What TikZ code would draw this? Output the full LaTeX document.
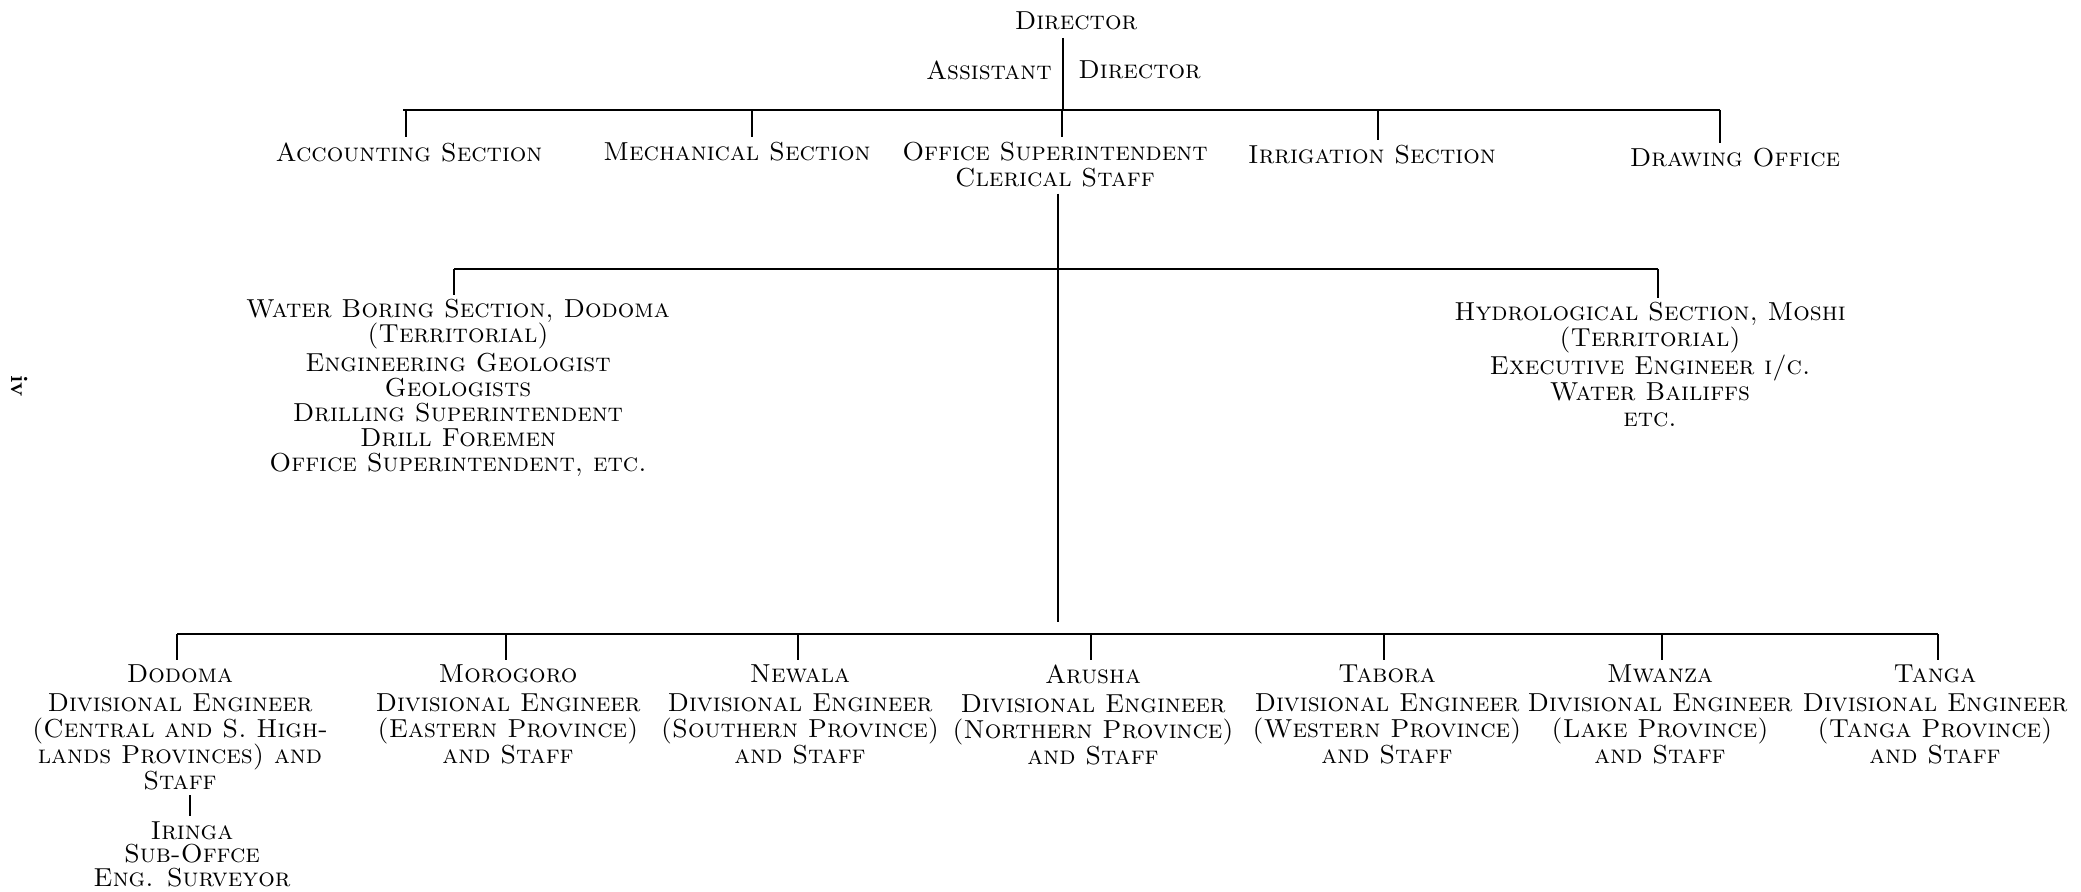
\documentclass[tikz,border=0pt]{standalone}
\begin{document}
\begin{tikzpicture}[x=0.5pt,y=-0.5pt,
  lbl/.style={font=\fontsize{13}{13}\selectfont\scshape, align=center, inner sep=0pt, anchor=north},
  bar/.style={line width=1.1pt},
  stem/.style={line width=0.7pt}]
\useasboundingbox (0,0) rectangle (2081,892);

% ---- top level
\node[lbl] (dir) at (1076,11) {Director};
\node[lbl,anchor=north east] (asst) at (1052,60) {Assistant};
\node[lbl,anchor=north west] (adir) at (1078,60) {Director};

\node[lbl] (acc)  at (409,142)  {Accounting Section};
\node[lbl] (mech) at (737,142)  {Mechanical Section};
\node[lbl] (off)  at (1055,142) {Office Superintendent\\Clerical Staff};
\node[lbl] (irr)  at (1372,145) {Irrigation Section};
\node[lbl] (drw)  at (1735,148) {Drawing Office};

% ---- second level
\node[lbl, font=\fontsize{13}{12.6}\selectfont\scshape] (wb) at (458,299)
  {Water Boring Section, Dodoma\\(Territorial)\\[1.5pt]Engineering Geologist\\Geologists\\Drilling Superintendent\\Drill Foremen\\Office Superintendent, etc.};
\node[lbl] (hyd) at (1650,302)
  {Hydrological Section, Moshi\\(Territorial)\\[1pt]Executive Engineer i/c.\\Water Bailiffs\\etc.};

% ---- divisions
\node[lbl] (dod) at (180,664)  {Dodoma\\[1.5pt]Divisional Engineer\\(Central and S. High-\\lands Provinces) and\\Staff};
\node[lbl] (mor) at (508,664)  {Morogoro\\[1.5pt]Divisional Engineer\\(Eastern Province)\\and Staff};
\node[lbl] (new) at (800,664)  {Newala\\[1.5pt]Divisional Engineer\\(Southern Province)\\and Staff};
\node[lbl] (aru) at (1093,664) {Arusha\\[1.5pt]Divisional Engineer\\(Northern Province)\\and Staff};
\node[lbl] (tab) at (1387,664) {Tabora\\[1.5pt]Divisional Engineer\\(Western Province)\\and Staff};
\node[lbl] (mwa) at (1660,664) {Mwanza\\[1.5pt]Divisional Engineer\\(Lake Province)\\and Staff};
\node[lbl] (tan) at (1935,664) {Tanga\\[1.5pt]Divisional Engineer\\(Tanga Province)\\and Staff};

\node[lbl, font=\fontsize{13}{11.75}\selectfont\scshape] (iri) at (192,821) {Iringa\\Sub-Offce\\Eng. Surveyor};

\node[font=\fontsize{12}{12}\selectfont\bfseries, rotate=-90, inner sep=0pt] (pg) at (20,386) {iv};

% ---- coordinates on the bars
\coordinate (t1) at (1063,110);
\coordinate (b1l) at (403,110);
\coordinate (b1r) at (1720,110);
\coordinate (d-acc) at (406,110);
\coordinate (d-mech) at (752,110);
\coordinate (d-off) at (1062,110);
\coordinate (d-irr) at (1378,110);
\coordinate (d-drw) at (1720,110);

\coordinate (b2l) at (454,269);
\coordinate (b2r) at (1658,269);
\coordinate (c1) at (1058,622);

\coordinate (b3l) at (177,634);
\coordinate (b3r) at (1938,634);
\coordinate (d-mor) at (506,634);
\coordinate (d-new) at (798,634);
\coordinate (d-aru) at (1091,634);
\coordinate (d-tab) at (1384,634);
\coordinate (d-mwa) at (1662,634);

% ---- connectors
\draw[stem, shorten <=4pt] (dir.south -| t1) -- (t1);
\draw[bar] (b1l) -- (b1r);
\foreach \d/\n in {d-acc/acc, d-mech/mech, d-off/off, d-irr/irr, d-drw/drw}
  \draw[stem, shorten >=2.5pt] (\d) -- (\d |- \n.north);

\draw[stem, shorten <=3pt] (off.south -| c1) -- (c1);
\draw[bar] (b2l) -- (b2r);
\draw[stem, shorten >=2pt] (b2l) -- (b2l |- wb.north);
\draw[stem, shorten >=2pt] (b2r) -- (b2r |- hyd.north);

\draw[bar] (b3l) -- (b3r);
\foreach \d/\n in {b3l/dod, d-mor/mor, d-new/new, d-aru/aru, d-tab/tab, d-mwa/mwa, b3r/tan}
  \draw[stem, shorten >=2pt] (\d) -- (\d |- \n.north);

\draw[stem, shorten <=2.5pt, shorten >=2.5pt] (dod.south -| 190,0) -- (iri.north -| 190,0);
\end{tikzpicture}
\end{document}
